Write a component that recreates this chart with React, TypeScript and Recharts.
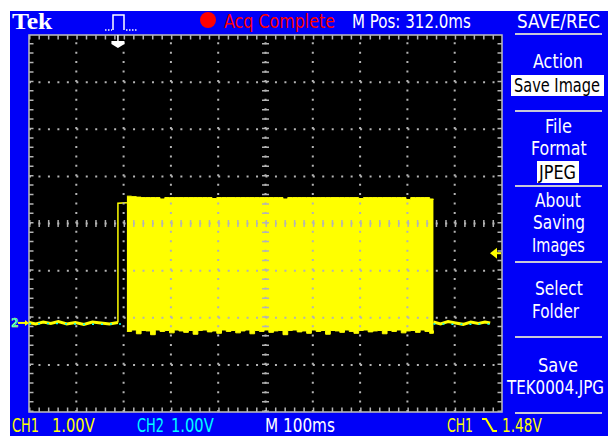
import React, { useLayoutEffect, useRef, useState } from 'react';
import {
  ComposedChart,
  XAxis,
  YAxis,
  CartesianGrid,
  Line,
  Area,
  ReferenceLine,
  ReferenceArea,
  ReferenceDot,
} from 'recharts';

// time: ms from left edge of screen (100 ms/div), amplitude: volts (1.00 V/div)
const X_TICKS = [0, 100, 200, 300, 400, 500, 600, 700, 800, 900, 1000];
const Y_TICKS = [-4, -3, -2, -1, 0, 1, 2, 3, 4];
const VOLTS_PER_DIV = 1.0;
const CH1_POS = -2.11; // divisions
const CH2_POS = -2.11;
const TRIG_TIME = 188;
const TRIG_LEVEL = 1.48;

// CH1 idle level
const ch1LeftTime = [0, 14, 30, 46, 62, 80, 98, 116, 134, 152, 170, 188];
const ch1LeftVolts = [0.01, -0.02, 0.02, -0.01, 0.03, -0.02, 0.01, -0.03, 0.02, 0.0, -0.02, 0.01];

// rising edge + first short step before the burst
const ch1EdgeTime = [188, 188, 207];
const ch1EdgeVolts = [0.01, 2.54, 2.55];

const ch1RightTime = [855, 870, 886, 902, 918, 934, 950, 964, 975];
const ch1RightVolts = [0.02, -0.02, 0.03, 0.0, -0.03, 0.02, -0.01, 0.02, 0.0];

// CH2 sits on the same ground
const ch2LeftTime = [0, 60, 120, 207];
const ch2LeftVolts = [-0.02, -0.01, -0.03, -0.02];
const ch2RightTime = [855, 915, 975];
const ch2RightVolts = [-0.02, -0.03, -0.02];

// burst envelope (min / max of the sampled signal)
const blockTime = [
  207, 217, 227, 237, 247, 257, 267, 277, 287, 297,
  307, 317, 327, 337, 347, 357, 367, 377, 387, 397,
  407, 417, 427, 437, 447, 457, 467, 477, 487, 497,
  507, 517, 527, 537, 547, 557, 567, 577, 587, 597,
  607, 617, 627, 637, 647, 657, 667, 677, 687, 697,
  707, 717, 727, 737, 747, 757, 767, 777, 787, 797,
  807, 817, 827, 837, 847, 855,
];
const blockHigh = [
  2.69, 2.68, 2.67, 2.66, 2.66, 2.66, 2.66, 2.63, 2.66, 2.66,
  2.66, 2.66, 2.66, 2.66, 2.66, 2.66, 2.66, 2.66, 2.64, 2.66,
  2.66, 2.66, 2.66, 2.66, 2.66, 2.66, 2.66, 2.66, 2.66, 2.66,
  2.66, 2.66, 2.66, 2.63, 2.66, 2.66, 2.66, 2.66, 2.66, 2.66,
  2.66, 2.66, 2.66, 2.66, 2.66, 2.66, 2.66, 2.66, 2.66, 2.64,
  2.66, 2.66, 2.66, 2.66, 2.66, 2.66, 2.66, 2.66, 2.66, 2.62,
  2.66, 2.66, 2.66, 2.66, 2.63, 2.62,
];
const blockLow = [
  -0.18, -0.15, -0.23, -0.16, -0.17, -0.25, -0.15, -0.18, -0.16, -0.21,
  -0.15, -0.17, -0.2, -0.16, -0.24, -0.16, -0.15, -0.19, -0.17, -0.22,
  -0.15, -0.18, -0.16, -0.21, -0.17, -0.15, -0.23, -0.16, -0.18, -0.15,
  -0.2, -0.17, -0.16, -0.25, -0.16, -0.15, -0.19, -0.17, -0.22, -0.15,
  -0.18, -0.16, -0.24, -0.16, -0.17, -0.2, -0.15, -0.18, -0.22, -0.16,
  -0.15, -0.19, -0.17, -0.16, -0.23, -0.16, -0.18, -0.15, -0.21, -0.17,
  -0.16, -0.2, -0.15, -0.18, -0.22, -0.16,
];

const toDiv = (v: number, pos: number) => v / VOLTS_PER_DIV + pos;
const trace = (time: number[], volts: number[], pos: number) =>
  time.map((t, i) => ({ t, v: toDiv(volts[i], pos) }));

const ch1Left = trace(ch1LeftTime, ch1LeftVolts, CH1_POS);
const ch1Edge = trace(ch1EdgeTime, ch1EdgeVolts, CH1_POS);
const ch1Right = trace(ch1RightTime, ch1RightVolts, CH1_POS);
const ch2Left = trace(ch2LeftTime, ch2LeftVolts, CH2_POS);
const ch2Right = trace(ch2RightTime, ch2RightVolts, CH2_POS);
const blockData = blockTime.map((t, i) => ({
  t,
  range: [toDiv(blockLow[i], CH1_POS), toDiv(blockHigh[i], CH1_POS)],
}));

const BLUE = '#0000f8';
const YELLOW = '#ffff00';
const CYAN = '#00ffff';
const GRID = '#b4b4b4';
const FONT = "'DejaVu Sans Condensed', 'DejaVu Sans', sans-serif";

const TrigPosMarker = ({ cx, cy }: any) => (
  <g>
    <line x1={cx} y1={cy} x2={cx} y2={cy + 6} stroke="#fff" strokeWidth={1.5} />
    <polygon
      points={`${cx - 6.5},${cy + 6} ${cx + 6.5},${cy + 6} ${cx + 6.5},${cy + 9} ${cx},${cy + 13} ${cx - 6.5},${cy + 9}`}
      fill="#fff"
    />
  </g>
);

const TrigLevelMarker = ({ cx, cy }: any) => (
  <g>
    <line x1={cx - 6} y1={cy} x2={cx - 1} y2={cy} stroke={YELLOW} strokeWidth={2} />
    <polygon points={`${cx - 12},${cy} ${cx - 5},${cy - 5.5} ${cx - 5},${cy + 5.5}`} fill={YELLOW} />
  </g>
);

const GroundMarker = ({ cx, cy }: any) => (
  <g>
    <text x={cx - 18} y={cy + 4.5} fontSize={12} fontWeight="bold" fontFamily={FONT} fill={CYAN} stroke={YELLOW} strokeWidth={0.4}>
      2
    </text>
    <line x1={cx - 11} y1={cy} x2={cx - 2} y2={cy} stroke={YELLOW} strokeWidth={2} />
    <polygon points={`${cx},${cy} ${cx - 4},${cy - 3} ${cx - 4},${cy + 3}`} fill={YELLOW} />
  </g>
);

// narrow scope-style text: squeeze the glyphs horizontally to the measured width
const Txt = ({ x, y, w, fill = '#fff', size = 19, family = FONT, weight = 'normal', children }: any) => {
  const ref = useRef<SVGTextElement>(null);
  const [sx, setSx] = useState(1);
  useLayoutEffect(() => {
    const bw = ref.current ? ref.current.getBBox().width : 0;
    if (bw > 0) setSx(w / bw);
  }, [w, children]);
  return (
    <text
      ref={ref}
      transform={`translate(${x} ${y}) scale(${sx} 1)`}
      fill={fill}
      fontSize={size}
      fontWeight={weight}
      fontFamily={family}
    >
      {children}
    </text>
  );
};

const Sep = ({ y }: { y: number }) => <line x1={515} y1={y} x2={602} y2={y} stroke="#c8c8d8" strokeWidth={2} />;

export default function App() {
  return (
    <div style={{ position: 'absolute', left: 0, top: 0, width: 608, height: 436, background: '#fff', overflow: 'hidden' }}>
      <div style={{ position: 'absolute', left: 10, top: 11, width: 598, height: 425, background: BLUE }} />

      <div style={{ position: 'absolute', left: 0, top: 0 }}>
        <ComposedChart width={608} height={436} margin={{ top: 35, right: 106, bottom: 24, left: 29 }}>
          <CartesianGrid fill="#000" fillOpacity={1} horizontal={false} vertical={false} />
          <XAxis type="number" dataKey="t" domain={[0, 1000]} ticks={X_TICKS} hide />
          <YAxis type="number" domain={[-4, 4]} ticks={Y_TICKS} hide />

          <Line data={ch1Left} dataKey="v" type="linear" stroke={YELLOW} strokeWidth={3} dot={false} activeDot={false} isAnimationActive={false} />
          <Line data={ch1Edge} dataKey="v" type="linear" stroke={YELLOW} strokeWidth={1.5} dot={false} activeDot={false} isAnimationActive={false} />
          <Line data={ch1Right} dataKey="v" type="linear" stroke={YELLOW} strokeWidth={3} dot={false} activeDot={false} isAnimationActive={false} />
          <Line data={ch2Left} dataKey="v" type="linear" stroke={CYAN} strokeWidth={1.5} strokeDasharray="2 7" dot={false} activeDot={false} isAnimationActive={false} />
          <Line data={ch2Right} dataKey="v" type="linear" stroke={CYAN} strokeWidth={1.5} strokeDasharray="2 7" dot={false} activeDot={false} isAnimationActive={false} />

          <Area data={blockData} dataKey="range" type="stepAfter" stroke={YELLOW} strokeWidth={1} fill={YELLOW} fillOpacity={1} dot={false} activeDot={false} isAnimationActive={false} />

          {X_TICKS.slice(1, -1).map((t) => (
            <ReferenceLine key={'gx' + t} x={t} stroke={GRID} strokeWidth={2} strokeDasharray="2 7.43" />
          ))}
          {Y_TICKS.slice(1, -1).map((v) => (
            <ReferenceLine key={'gy' + v} y={v} stroke={GRID} strokeWidth={2} strokeDasharray="2 7.46" />
          ))}
          <ReferenceLine x={500} stroke={GRID} strokeWidth={7} strokeDasharray="1.5 7.925" />
          <ReferenceLine y={0} stroke={GRID} strokeWidth={7} strokeDasharray="1.5 7.96" />
          <ReferenceLine x={0} stroke={GRID} strokeWidth={9} strokeDasharray="1.5 7.925" ifOverflow="hidden" />
          <ReferenceLine x={1000} stroke={GRID} strokeWidth={9} strokeDasharray="1.5 7.925" ifOverflow="hidden" />
          <ReferenceLine y={4} stroke={GRID} strokeWidth={9} strokeDasharray="1.5 7.96" ifOverflow="hidden" />
          <ReferenceLine y={-4} stroke={GRID} strokeWidth={9} strokeDasharray="1.5 7.96" ifOverflow="hidden" />
          <ReferenceArea x1={0} x2={1000} y1={-4} y2={4} fill="none" stroke="#c0c0c0" strokeWidth={1.5} />

          <ReferenceDot x={TRIG_TIME} y={4} shape={TrigPosMarker} />
          <ReferenceDot x={1000} y={toDiv(TRIG_LEVEL, CH1_POS)} shape={TrigLevelMarker} />
          <ReferenceDot x={0} y={CH1_POS} shape={GroundMarker} />
        </ComposedChart>
      </div>

      <svg width={608} height={436} style={{ position: 'absolute', left: 0, top: 0, pointerEvents: 'none' }}>
        {/* header */}
        <Txt x={12} y={29} w={41} size={24} weight="bold" family="'Liberation Serif', serif">Tek</Txt>
        <g stroke="#fff" strokeWidth={1.5} fill="none">
          <polyline points="105,30 112,30" strokeDasharray="1.5 1.5" />
          <polyline points="113,30 113,15 124,15 124,30" />
          <polyline points="126,30 138,30" strokeDasharray="1.5 1.5" />
        </g>
        <circle cx={208} cy={20} r={8} fill="#ff0000" />
        <Txt x={224} y={28} w={111} fill="#ff0000">Acq Complete</Txt>
        <Txt x={352} y={28} w={119}>M Pos: 312.0ms</Txt>
        <Txt x={517} y={28} w={83}>SAVE/REC</Txt>
        <line x1={515} y1={34} x2={602} y2={34} stroke="#c8c8d8" strokeWidth={2} />

        {/* side menu */}
        <Txt x={533} y={68} w={50}>Action</Txt>
        <rect x={511} y={75} width={93} height={21} fill="#fff" />
        <Txt x={514} y={92} w={86} fill="#000">Save Image</Txt>
        <Sep y={111} />
        <Txt x={545} y={133} w={27}>File</Txt>
        <Txt x={531} y={155} w={56}>Format</Txt>
        <rect x={537} y={161} width={42} height={22} fill="#fff" />
        <Txt x={539} y={179} w={38} fill="#000">JPEG</Txt>
        <Sep y={186} />
        <Txt x={535} y={207} w={46}>About</Txt>
        <Txt x={533} y={229} w={52}>Saving</Txt>
        <Txt x={532} y={252} w={53}>Images</Txt>
        <Sep y={262} />
        <Txt x={535} y={295} w={48}>Select</Txt>
        <Txt x={532} y={318} w={48}>Folder</Txt>
        <Sep y={337} />
        <Txt x={538} y={372} w={40}>Save</Txt>
        <Txt x={507} y={394} w={98}>TEK0004.JPG</Txt>
        <line x1={515} y1={413} x2={602} y2={413} stroke="#c8c8d8" strokeWidth={2} />

        {/* footer */}
        <Txt x={12} y={432} w={27} fill={YELLOW}>CH1</Txt>
        <Txt x={52} y={432} w={43} fill={YELLOW}>1.00V</Txt>
        <Txt x={137} y={432} w={27} fill={CYAN}>CH2</Txt>
        <Txt x={171} y={432} w={43} fill={CYAN}>1.00V</Txt>
        <Txt x={265} y={432} w={70}>M 100ms</Txt>
        <Txt x={447} y={432} w={26} fill={YELLOW}>CH1</Txt>
        <polyline points="482,419 486,419 493,431 497,431" stroke={YELLOW} strokeWidth={2} fill="none" />
        <Txt x={502} y={432} w={40} fill={YELLOW}>1.48V</Txt>
      </svg>
    </div>
  );
}
